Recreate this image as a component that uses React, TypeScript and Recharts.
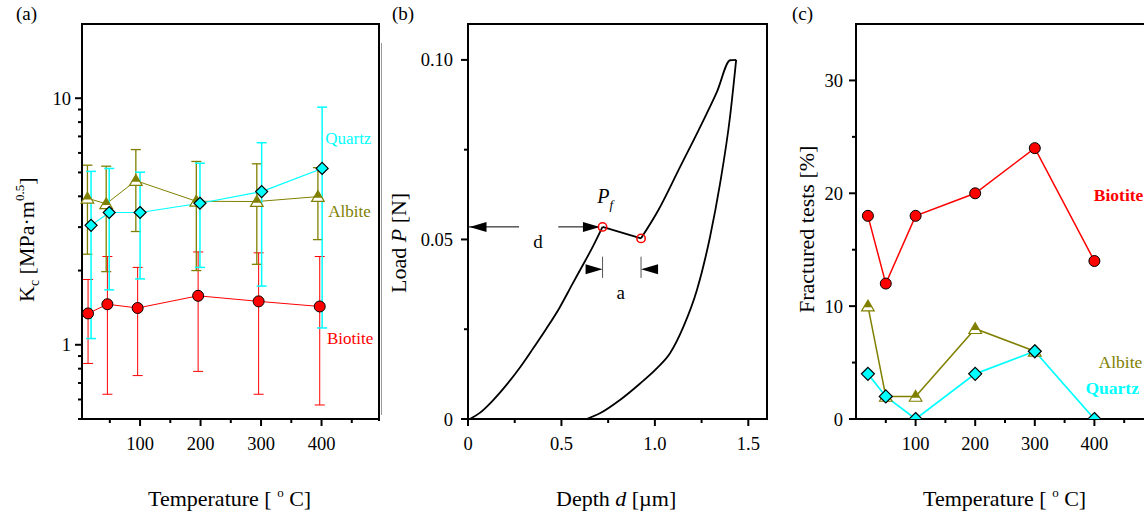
import React from "react";
import {
  LineChart,
  Line,
  XAxis,
  YAxis,
  ErrorBar,
  ReferenceArea,
  ReferenceDot,
  ReferenceLine,
} from "recharts";

const FONT = "'Liberation Serif', 'Times New Roman', serif";
const RED = "#ff0000";
const OLIVE = "#808000";
const CYAN = "#00ffff";

// (a) fracture toughness Kc vs temperature (log axis), points shifted a little per mineral
const kcTempBiotite = [14, 46, 96, 196, 296, 397];
const kcTempAlbite = [13, 44, 93, 193, 293, 394];
const kcTempQuartz = [19, 49, 100, 199, 301, 401];

const kcBiotite = [1.34, 1.46, 1.41, 1.58, 1.5, 1.43];
const kcBiotiteLow = [0.84, 0.63, 0.75, 0.78, 0.63, 0.57];
const kcBiotiteHigh = [1.84, 2.28, 2.06, 2.38, 2.36, 2.28];

const kcAlbite = [3.93, 3.73, 4.63, 3.82, 3.81, 3.99];
const kcAlbiteLow = [2.33, 1.98, 2.88, 2.0, 2.12, 2.67];
const kcAlbiteHigh = [5.35, 5.3, 6.19, 5.54, 5.42, 5.23];

const kcQuartz = [3.05, 3.44, 3.44, 3.75, 4.18, 5.19];
const kcQuartzLow = [1.06, 1.67, 1.85, 2.06, 1.73, 1.17];
const kcQuartzHigh = [5.05, 5.19, 5.01, 5.45, 6.6, 9.2];

const kcTicks = [0.5, 0.6, 0.7, 0.8, 0.9, 1, 2, 3, 4, 5, 6, 7, 8, 9, 10];
const kcTickLabels: Record<string, string> = { "1": "1", "10": "10" };

const tempTicks = [50, 100, 150, 200, 250, 300, 350, 400, 450];
const tempTickLabels: Record<string, string> = { "100": "100", "200": "200", "300": "300", "400": "400" };

// (b) load-depth curve
const loadDepth = [0.01, 0.063, 0.13, 0.206, 0.28, 0.349, 0.42, 0.49, 0.56, 0.6, 0.67, 0.72, 0.926, 1.019, 1.135, 1.242, 1.332, 1.403, 1.435];
const loadForce = [0, 0.0017, 0.005, 0.0095, 0.0145, 0.0197, 0.0252, 0.031, 0.0377, 0.0415, 0.0482, 0.0535, 0.0503, 0.0582, 0.0702, 0.0813, 0.0911, 0.0999, 0.1];
const popInStart = 11; // index of P_f in the loading arrays
const unloadDepth = [0.635, 0.706, 0.813, 0.921, 1.01, 1.081, 1.153, 1.225, 1.295, 1.349, 1.402, 1.435];
const unloadForce = [0, 0.0016, 0.0053, 0.0099, 0.0141, 0.0183, 0.0257, 0.0359, 0.0507, 0.0656, 0.0841, 0.1];

const depthTicks = [0, 0.25, 0.5, 0.75, 1, 1.25, 1.5];
const depthTickLabels: Record<string, string> = { "0": "0", "0.5": "0.5", "1": "1.0", "1.5": "1.5" };
const forceTicks = [0, 0.025, 0.05, 0.075, 0.1];
const forceTickLabels: Record<string, string> = { "0": "0", "0.05": "0.05", "0.1": "0.10" };

// (c) share of fractured tests
const fracTemp = [20, 50, 100, 200, 300, 400];
const fracTempAlbite = [20, 50, 100, 200, 300];
const fracBiotite = [18, 12, 18, 20, 24, 14];
const fracAlbite = [10, 2, 2, 8, 6];
const fracQuartz = [4, 2, 0, 4, 6, 0];

const fracTicks = [0, 5, 10, 15, 20, 25, 30];
const fracTickLabels: Record<string, string> = { "0": "0", "10": "10", "20": "20", "30": "30" };

const withErr = (t: number[], v: number[], lo: number[], hi: number[]) =>
  t.map((x, i) => ({ t: x, v: v[i], err: [v[i] - lo[i], hi[i] - v[i]] }));
const pairs = (t: number[], v: number[]) => t.map((x, i) => ({ t: x, v: v[i] }));

const kcBiotiteData = withErr(kcTempBiotite, kcBiotite, kcBiotiteLow, kcBiotiteHigh);
const kcAlbiteData = withErr(kcTempAlbite, kcAlbite, kcAlbiteLow, kcAlbiteHigh);
const kcQuartzData = withErr(kcTempQuartz, kcQuartz, kcQuartzLow, kcQuartzHigh);
const loadData = pairs(loadDepth, loadForce);
const loadBefore = loadData.slice(0, popInStart + 1);
const loadPopIn = loadData.slice(popInStart, popInStart + 2);
const loadAfter = loadData.slice(popInStart + 1);
const unloadData = pairs(unloadDepth, unloadForce);
const fracBiotiteData = pairs(fracTemp, fracBiotite);
const fracAlbiteData = pairs(fracTempAlbite, fracAlbite);
const fracQuartzData = pairs(fracTemp, fracQuartz);

// markers
const circleDot = (r: number) => (p: any) =>
  p.cx == null ? <g key={p.key} /> : (
    <circle key={p.key} cx={p.cx} cy={p.cy} r={r} fill={RED} stroke="#000" strokeWidth={1} />
  );

const diamondDot = (s: number) => (p: any) =>
  p.cx == null ? <g key={p.key} /> : (
    <polygon
      key={p.key}
      points={`${p.cx},${p.cy - s} ${p.cx + s},${p.cy} ${p.cx},${p.cy + s} ${p.cx - s},${p.cy}`}
      fill={CYAN}
      stroke="#000"
      strokeWidth={1.2}
    />
  );

const halfTriangleDot = (s: number) => (p: any) => {
  if (p.cx == null) return <g key={p.key} />;
  const { cx, cy } = p;
  return (
    <g key={p.key}>
      <polygon
        points={`${cx},${cy - s} ${cx + s * 1.05},${cy + s * 0.8} ${cx - s * 1.05},${cy + s * 0.8}`}
        fill="#fff"
        stroke={OLIVE}
        strokeWidth={1.2}
      />
      <polygon
        points={`${cx},${cy - s} ${cx + s * 0.7},${cy + s * 0.2} ${cx - s * 0.7},${cy + s * 0.2}`}
        fill={OLIVE}
      />
    </g>
  );
};

// ticks drawn by hand so major/minor lengths differ
const TICK_FONT = 18.5;
const TITLE_FONT = 22;

const bottomTick = (labels: Record<string, string>) => (p: any) => {
  const text = labels[String(p.payload.value)];
  return (
    <g>
      <line x1={p.x} x2={p.x} y1={p.y} y2={p.y + (text ? 7 : 4)} stroke="#000" strokeWidth={2} />
      {text && (
        <text x={p.x} y={p.y + 31} textAnchor="middle" fontFamily={FONT} fontSize={TICK_FONT} fill="#000">
          {text}
        </text>
      )}
    </g>
  );
};

const leftTick = (labels: Record<string, string>, gap: number) => (p: any) => {
  const text = labels[String(p.payload.value)];
  return (
    <g>
      <line x1={p.x - (text ? 7 : 4)} x2={p.x} y1={p.y} y2={p.y} stroke="#000" strokeWidth={2} />
      {text && (
        <text x={p.x - gap} y={p.y + 6.5} textAnchor="end" fontFamily={FONT} fontSize={TICK_FONT} fill="#000">
          {text}
        </text>
      )}
    </g>
  );
};

const textDot = (label: React.ReactNode, color: string, size: number, bold = false, anchor = "start") => (p: any) => (
  <text
    x={p.cx}
    y={p.cy}
    dy="0.35em"
    textAnchor={anchor}
    fontFamily={FONT}
    fontSize={size}
    fontWeight={bold ? "bold" : "normal"}
    fill={color}
  >
    {label}
  </text>
);

const arrowHead = (dir: number) => (p: any) => (
  <polygon
    points={`${p.cx},${p.cy} ${p.cx - dir * 17},${p.cy - 5} ${p.cx - dir * 17},${p.cy + 5}`}
    fill="#000"
  />
);

// horizontal title, left-anchored
const xTitle = (x: number, content: React.ReactNode) => () => (
  <text x={x} y={506} fontFamily={FONT} fontSize={TITLE_FONT} fill="#000">
    {content}
  </text>
);
// vertical title reading upward, starting at (x, y)
const yTitle = (x: number, y: number, content: React.ReactNode) => () => (
  <text x={x} y={y} transform={`rotate(-90 ${x} ${y})`} fontFamily={FONT} fontSize={TITLE_FONT} fill="#000">
    {content}
  </text>
);

const tempTitle = (
  <>
    Temperature [ <tspan dy={-9} fontSize={13}>o</tspan>
    <tspan dy={9}> C]</tspan>
  </>
);

const axisLine = { stroke: "#000", strokeWidth: 2 };
const H = 516;

const PanelA = () => (
  <LineChart width={380} height={H} margin={{ top: 24, right: 1, bottom: 57, left: 22 }}>
    <XAxis
      dataKey="t"
      type="number"
      domain={[4, 495]}
      ticks={tempTicks}
      interval={0}
      tickSize={0}
      tickMargin={0}
      tickLine={false}
      axisLine={axisLine}
      tick={bottomTick(tempTickLabels)}
      height={40}
      label={xTitle(148, tempTitle)}
    />
    <YAxis
      type="number"
      scale="log"
      domain={[0.5, 20]}
      allowDataOverflow
      ticks={kcTicks}
      interval={0}
      tickSize={0}
      tickMargin={0}
      tickLine={false}
      axisLine={axisLine}
      tick={leftTick(kcTickLabels, 11)}
      width={60}
      label={yTitle(
        34,
        302,
        <>
          K<tspan dy={5} fontSize={14}>c</tspan>
          <tspan dy={-5}> [MPa·m</tspan>
          <tspan dy={-10} fontSize={13}>0.5</tspan>
          <tspan dy={10}>]</tspan>
        </>
      )}
    />
    <Line data={kcBiotiteData} dataKey="v" stroke={RED} strokeWidth={1} dot={circleDot(5.5)} activeDot={false} isAnimationActive={false}>
      <ErrorBar dataKey="err" width={5} stroke={RED} strokeWidth={1} direction="y" />
    </Line>
    <Line data={kcAlbiteData} dataKey="v" stroke={OLIVE} strokeWidth={1} dot={halfTriangleDot(6)} activeDot={false} isAnimationActive={false}>
      <ErrorBar dataKey="err" width={5} stroke={OLIVE} strokeWidth={1.3} direction="y" />
    </Line>
    <Line data={kcQuartzData} dataKey="v" stroke={CYAN} strokeWidth={1.2} dot={diamondDot(6)} activeDot={false} isAnimationActive={false}>
      <ErrorBar dataKey="err" width={5} stroke={CYAN} strokeWidth={1.5} direction="y" />
    </Line>
    <ReferenceDot x={406} y={6.9} r={0} shape={textDot("Quartz", CYAN, 17)} />
    <ReferenceDot x={411} y={3.5} r={0} shape={textDot("Albite", OLIVE, 17)} />
    <ReferenceDot x={409} y={1.06} r={0} shape={textDot("Biotite", RED, 17)} />
  </LineChart>
);

const PanelB = () => (
  <LineChart width={400} height={H} margin={{ top: 24, right: 13, bottom: 57, left: 28 }}>
    <XAxis
      dataKey="t"
      type="number"
      domain={[0, 1.6]}
      ticks={depthTicks}
      interval={0}
      tickSize={0}
      tickMargin={0}
      tickLine={false}
      axisLine={axisLine}
      tick={bottomTick(depthTickLabels)}
      height={40}
      label={xTitle(
        176,
        <>
          Depth <tspan fontStyle="italic">d</tspan> [µm]
        </>
      )}
    />
    <YAxis
      type="number"
      domain={[0, 0.11]}
      allowDataOverflow
      ticks={forceTicks}
      interval={0}
      tickSize={0}
      tickMargin={0}
      tickLine={false}
      axisLine={axisLine}
      tick={leftTick(forceTickLabels, 15)}
      width={60}
      label={yTitle(
        26,
        293,
        <>
          Load <tspan fontStyle="italic">P</tspan> [N]
        </>
      )}
    />
    <ReferenceArea x1={0} x2={1.6} y1={0} y2={0.11} ifOverflow="visible" fill="none" stroke="#000" strokeWidth={2} />
    <Line data={loadBefore} dataKey="v" type="monotone" stroke="#000" strokeWidth={1.8} dot={false} activeDot={false} isAnimationActive={false} />
    <Line data={loadPopIn} dataKey="v" type="linear" stroke="#000" strokeWidth={1.8} dot={false} activeDot={false} isAnimationActive={false} />
    <Line data={loadAfter} dataKey="v" type="monotone" stroke="#000" strokeWidth={1.8} dot={false} activeDot={false} isAnimationActive={false} />
    <Line data={unloadData} dataKey="v" type="monotone" stroke="#000" strokeWidth={1.8} dot={false} activeDot={false} isAnimationActive={false} />

    {/* d arrows */}
    <ReferenceLine segment={[{ x: 0.005, y: 0.0535 }, { x: 0.273, y: 0.0535 }]} stroke="#000" strokeWidth={1} />
    <ReferenceLine segment={[{ x: 0.483, y: 0.0535 }, { x: 0.7, y: 0.0535 }]} stroke="#000" strokeWidth={1} />
    <ReferenceDot x={0.008} y={0.0535} r={0} shape={arrowHead(-1)} />
    <ReferenceDot x={0.706} y={0.0535} r={0} shape={arrowHead(1)} />
    <ReferenceDot x={0.375} y={0.0496} r={0} shape={textDot("d", "#000", 19, false, "middle")} />

    {/* a markers */}
    <ReferenceLine segment={[{ x: 0.72, y: 0.0393 }, { x: 0.72, y: 0.0452 }]} stroke="#555" strokeWidth={1} />
    <ReferenceLine segment={[{ x: 0.926, y: 0.0393 }, { x: 0.926, y: 0.0452 }]} stroke="#555" strokeWidth={1} />
    <ReferenceDot x={0.72} y={0.0417} r={0} shape={arrowHead(1)} />
    <ReferenceDot x={0.926} y={0.0417} r={0} shape={arrowHead(-1)} />
    <ReferenceDot x={0.817} y={0.0352} r={0} shape={textDot("a", "#000", 19, false, "middle")} />

    <ReferenceDot
      x={0.692}
      y={0.0622}
      r={0}
      shape={textDot(
        <>
          <tspan fontStyle="italic">P</tspan>
          <tspan dy={6} fontSize={13} fontStyle="italic">f</tspan>
        </>,
        "#000",
        20
      )}
    />
    <ReferenceDot x={0.72} y={0.0535} r={4.2} fill="none" stroke={RED} strokeWidth={1.5} />
    <ReferenceDot x={0.926} y={0.0503} r={4.2} fill="none" stroke={RED} strokeWidth={1.5} />
  </LineChart>
);

const PanelC = () => (
  <LineChart width={380} height={H} margin={{ top: 24, right: 6, bottom: 57, left: 16 }}>
    <XAxis
      dataKey="t"
      type="number"
      domain={[0, 500]}
      ticks={tempTicks}
      interval={0}
      tickSize={0}
      tickMargin={0}
      tickLine={false}
      axisLine={axisLine}
      tick={bottomTick(tempTickLabels)}
      height={40}
      label={xTitle(143, tempTitle)}
    />
    <YAxis
      type="number"
      domain={[0, 35]}
      allowDataOverflow
      ticks={fracTicks}
      interval={0}
      tickSize={0}
      tickMargin={0}
      tickLine={false}
      axisLine={axisLine}
      tick={leftTick(fracTickLabels, 13)}
      width={60}
      label={yTitle(34, 313, "Fractured tests [%]")}
    />
    <ReferenceArea x1={0} x2={500} y1={0} y2={35} ifOverflow="visible" fill="none" stroke="#000" strokeWidth={2} />
    <Line data={fracBiotiteData} dataKey="v" stroke={RED} strokeWidth={1.5} dot={circleDot(5.5)} activeDot={false} isAnimationActive={false} />
    <Line data={fracAlbiteData} dataKey="v" stroke={OLIVE} strokeWidth={1.5} dot={halfTriangleDot(6)} activeDot={false} isAnimationActive={false} />
    <Line data={fracQuartzData} dataKey="v" stroke={CYAN} strokeWidth={1.7} dot={diamondDot(6.5)} activeDot={false} isAnimationActive={false} />
    <ReferenceDot x={399} y={19.9} r={0} shape={textDot("Biotite", RED, 17.5, true)} />
    <ReferenceDot x={407} y={5.07} r={0} shape={textDot("Albite", OLIVE, 17.5)} />
    <ReferenceDot x={385} y={2.75} r={0} shape={textDot("Quartz", CYAN, 17.5, true)} />
  </LineChart>
);

const App: React.FC = () => {
  return (
    <div
      style={{
        position: "absolute",
        left: 0,
        top: 0,
        width: 1144,
        height: 516,
        overflow: "hidden",
        background: "#fff",
        fontFamily: FONT,
      }}
    >
      <div style={{ position: "absolute", left: 0, top: 0 }}>
        <PanelA />
      </div>
      <div style={{ position: "absolute", left: 380, top: 0 }}>
        <PanelB />
      </div>
      <div style={{ position: "absolute", left: 780, top: 0 }}>
        <PanelC />
      </div>
      {/* top and right edges of the frame of panel (a) */}
      <div
        style={{
          position: "absolute",
          left: 81,
          top: 23,
          width: 297,
          height: 396,
          borderTop: "2px solid #000",
          borderRight: "2px solid #000",
          pointerEvents: "none",
        }}
      />
      <svg width={1144} height={516} style={{ position: "absolute", left: 0, top: 0, pointerEvents: "none" }}>
        <line x1={381.5} x2={381.5} y1={43} y2={415} stroke="#999" strokeWidth={1} />
        <text x={16} y={20} fontFamily={FONT} fontSize={19} fill="#000">(a)</text>
        <text x={392} y={20} fontFamily={FONT} fontSize={19} fill="#000">(b)</text>
        <text x={792} y={20} fontFamily={FONT} fontSize={19} fill="#000">(c)</text>
      </svg>
    </div>
  );
};

export default App;
